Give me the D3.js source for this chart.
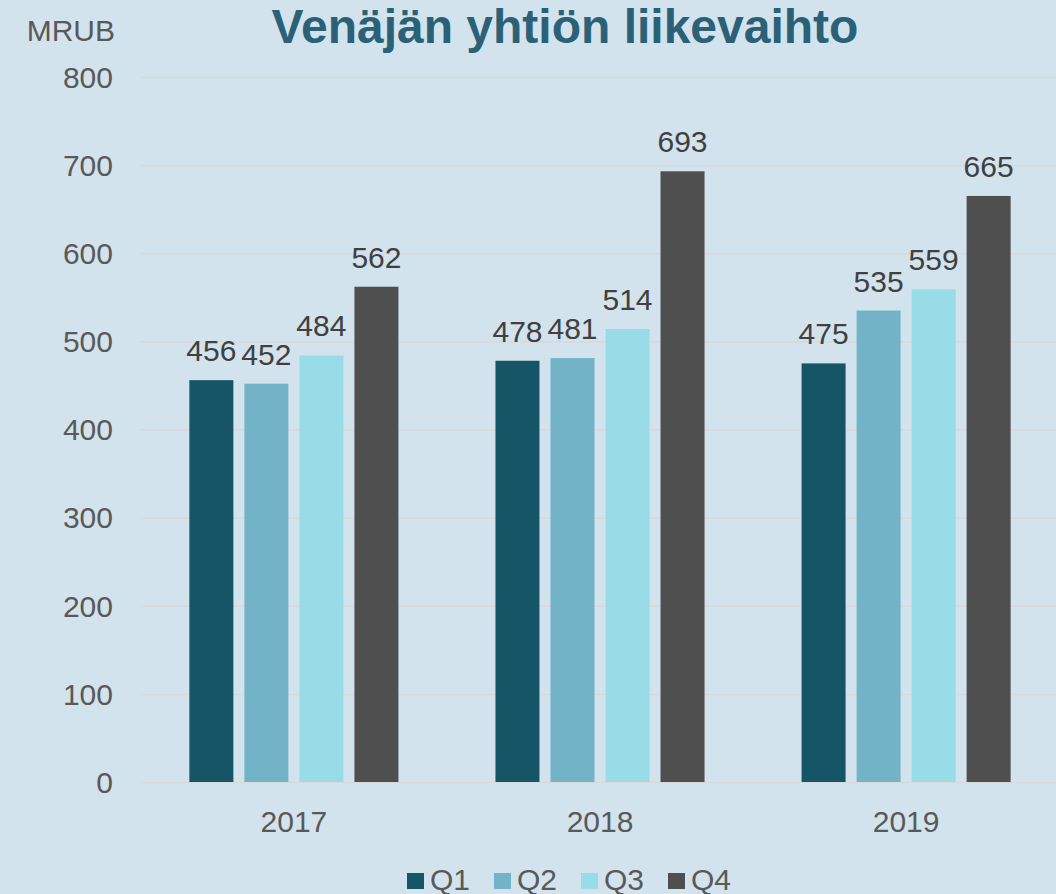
<!DOCTYPE html>
<html>
  <head>
    <meta charset="utf-8">
    <title>Venäjän yhtiön liikevaihto</title>
<style>
body { margin: 0; background: #D3E3ED; }
svg { display: block; font-family: "Liberation Sans", Arial, sans-serif; }
.grid line { stroke: #D9D9D9; stroke-width: 1.5px; }
.grid path { display: none; }
</style>
    <script src="https://d3js.org/d3.v7.min.js"></script>
  </head>
  <body>
    <script>
      var years = ["2017", "2018", "2019"];
      var quarters = ["Q1", "Q2", "Q3", "Q4"];
      var q1 = [456, 478, 475];
      var q2 = [452, 481, 535];
      var q3 = [484, 514, 559];
      var q4 = [562, 693, 665];
      var yTicks = [0, 100, 200, 300, 400, 500, 600, 700, 800];
      var colors = ["#155566", "#72B3C8", "#97DCE6", "#4F4F4F"];

      var series = [q1, q2, q3, q4];
      var width = 1056, height = 894;
      var plotLeft = 141, plotRight = 1059, plotTop = 77, plotBottom = 782;

      var svg = d3.select("body").append("svg")
        .attr("width", width)
        .attr("height", height);

      svg.append("rect").attr("width", width).attr("height", height).attr("fill", "#D3E3ED");

      var x0 = d3.scaleBand().domain(years).range([plotLeft, plotRight])
        .paddingInner(0.317).paddingOuter(0.158);
      var x1 = d3.scaleBand().domain(quarters).range([0, x0.bandwidth()])
        .paddingInner(0.2);
      var y = d3.scaleLinear().domain([0, 800]).range([plotBottom, plotTop]);

      // gridlines
      svg.append("g")
        .attr("class", "grid")
        .attr("transform", "translate(" + plotLeft + ",0)")
        .call(d3.axisRight(y).tickValues(yTicks).tickSize(plotRight - plotLeft).tickFormat(""));

      // y labels
      svg.append("g").selectAll("text")
        .data(yTicks).enter().append("text")
        .attr("x", 113).attr("y", function(d) { return y(d); })
        .attr("dy", "0.36em")
        .attr("text-anchor", "end")
        .attr("font-size", 30).attr("fill", "#595959")
        .text(function(d) { return d; });

      svg.append("text")
        .attr("x", 115).attr("y", 41)
        .attr("text-anchor", "end")
        .attr("font-size", 30).attr("fill", "#595959")
        .text("MRUB");

      svg.append("text")
        .attr("x", 565).attr("y", 43)
        .attr("text-anchor", "middle")
        .attr("font-size", 48).attr("font-weight", "bold")
        .attr("fill", "#2A6177")
        .text("Venäjän yhtiön liikevaihto");

      // bars
      var groups = svg.append("g").selectAll("g")
        .data(years).enter().append("g")
        .attr("transform", function(d) { return "translate(" + x0(d) + ",0)"; });

      groups.selectAll("rect")
        .data(function(d, i) { return quarters.map(function(q, j) { return {q: q, v: series[j][i]}; }); })
        .enter().append("rect")
        .attr("x", function(d) { return x1(d.q); })
        .attr("width", x1.bandwidth())
        .attr("y", function(d) { return y(d.v); })
        .attr("height", function(d) { return plotBottom - y(d.v); })
        .attr("fill", function(d, j) { return colors[j]; });

      groups.selectAll("text.val")
        .data(function(d, i) { return quarters.map(function(q, j) { return {q: q, v: series[j][i]}; }); })
        .enter().append("text")
        .attr("class", "val")
        .attr("x", function(d) { return x1(d.q) + x1.bandwidth() / 2; })
        .attr("y", function(d) { return y(d.v) - 19; })
        .attr("text-anchor", "middle")
        .attr("font-size", 30).attr("fill", "#404040")
        .text(function(d) { return d.v; });

      // x labels
      svg.append("g").selectAll("text")
        .data(years).enter().append("text")
        .attr("x", function(d) { return x0(d) + x0.bandwidth() / 2; })
        .attr("y", 832)
        .attr("text-anchor", "middle")
        .attr("font-size", 30).attr("fill", "#595959")
        .text(function(d) { return d; });

      // legend
      var legend = svg.append("g").selectAll("g")
        .data(quarters).enter().append("g")
        .attr("transform", function(d, i) { return "translate(" + (407 + i * 87) + ",873)"; });
      legend.append("rect")
        .attr("width", 17).attr("height", 16)
        .attr("fill", function(d, i) { return colors[i]; });
      legend.append("text")
        .attr("x", 23).attr("y", 17)
        .attr("font-size", 30).attr("fill", "#595959")
        .text(function(d) { return d; });
    </script>
  </body>
</html>
